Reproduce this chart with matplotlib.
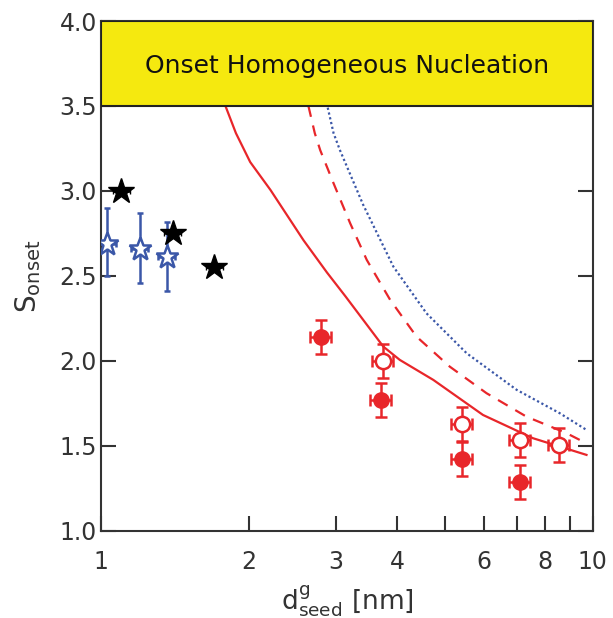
import numpy as np
import matplotlib.pyplot as plt
from matplotlib.patches import Rectangle

# Experimental points
black_d = [1.10, 1.40, 1.70]
black_s = [3.00, 2.75, 2.55]

blue_d = [1.03, 1.20, 1.36]
blue_s = [2.69, 2.66, 2.61]
blue_lo = [0.19, 0.20, 0.20]
blue_hi = [0.21, 0.21, 0.21]

filled_d = [2.80, 3.71, 5.42, 7.11]
filled_s = [2.14, 1.77, 1.42, 1.29]
filled_err = [0.10, 0.10, 0.10, 0.10]

open_d = [3.74, 5.42, 7.11, 8.53]
open_s = [2.00, 1.63, 1.535, 1.506]
open_err = [0.10, 0.10, 0.10, 0.10]

# Model curves
solid_d = [1.79, 1.88, 2.01, 2.21, 2.58, 2.88, 3.14, 3.75, 4.05, 4.74, 5.98, 7.56, 9.71]
solid_s = [3.50, 3.34, 3.17, 3.006, 2.71, 2.52, 2.38, 2.084, 2.006, 1.888, 1.682, 1.545, 1.447]

dash_d = [2.64, 2.72, 2.79, 2.97, 3.21, 3.47, 3.87, 4.38, 5.12, 6.08, 7.33, 8.84, 9.41]
dash_s = [3.50, 3.34, 3.24, 3.045, 2.81, 2.594, 2.36, 2.143, 1.966, 1.81, 1.672, 1.575, 1.535]

dot_d = [2.89, 2.97, 3.06, 3.41, 3.93, 4.59, 5.54, 7.00, 8.57, 9.71]
dot_s = [3.49, 3.34, 3.24, 2.92, 2.555, 2.28, 2.045, 1.83, 1.692, 1.594]

red = '#e8262a'
blue = '#3b57a8'
dark = '#333333'

plt.rcParams['font.family'] = 'DejaVu Sans'
fig = plt.figure(figsize=(6.13, 6.18), dpi=100)
ax = fig.add_axes([0.165, 0.141, 0.802, 0.825])

ax.set_xscale('log')
ax.set_xlim(1, 10)
ax.set_ylim(1.0, 4.0)

# yellow band
ax.add_patch(Rectangle((1, 3.5), 9, 0.5, facecolor='#f5e90f', edgecolor='#222222',
                       linewidth=1.5, zorder=5))
ax.text(np.sqrt(10), 3.735, 'Onset Homogeneous Nucleation', ha='center', va='center',
        fontsize=18, color='#111111', zorder=6)

ax.plot(solid_d, solid_s, color=red, linewidth=1.6, zorder=2)
ax.plot(dash_d, dash_s, color=red, linewidth=1.6, linestyle=(0, (5, 4)), zorder=2)
ax.plot(dot_d, dot_s, color=blue, linewidth=1.6, linestyle=(0, (1, 1.2)), zorder=2)

ax.errorbar(blue_d, blue_s, yerr=[blue_lo, blue_hi],
            xerr=[[d * 0.04 for d in blue_d], [d * 0.04 for d in blue_d]],
            fmt='*', ms=17, mfc='white', mec=blue, mew=1.8, ecolor=blue,
            elinewidth=1.8, capsize=2, zorder=3)
ax.errorbar(black_d, black_s, xerr=[[d * 0.04 for d in black_d], [d * 0.04 for d in black_d]],
            fmt='*', ms=19, color='black', ecolor='black', elinewidth=1.8, capsize=2, zorder=3)

ax.errorbar(filled_d, filled_s, yerr=filled_err,
            xerr=[[d * 0.05 for d in filled_d], [d * 0.05 for d in filled_d]],
            fmt='o', ms=11, color=red, ecolor=red, elinewidth=1.8, capsize=4,
            capthick=1.8, zorder=3)
ax.errorbar(open_d, open_s, yerr=open_err,
            xerr=[[d * 0.05 for d in open_d], [d * 0.05 for d in open_d]],
            fmt='o', ms=11, mfc='white', mec=red, mew=1.8, ecolor=red, elinewidth=1.8,
            capsize=4, capthick=1.8, zorder=3)

ax.set_xticks([1, 2, 3, 4, 6, 8, 10])
ax.set_xticklabels(['1', '2', '3', '4', '6', '8', '10'])
ax.set_xticks([5, 7, 9], minor=True)
ax.xaxis.set_minor_formatter(plt.NullFormatter())
ax.set_yticks([1.0, 1.5, 2.0, 2.5, 3.0, 3.5, 4.0])
ax.set_yticklabels(['1.0', '1.5', '2.0', '2.5', '3.0', '3.5', '4.0'])

ax.tick_params(axis='both', which='both', direction='in', length=11, width=1.5,
               colors=dark, labelsize=17, top=False, right=True)
ax.tick_params(axis='x', which='both', pad=14)
ax.tick_params(axis='y', pad=3)
for s in ax.spines.values():
    s.set_color(dark)
    s.set_linewidth(1.5)

ax.set_xlabel(r'$\mathregular{d^{g}_{seed}}$ [nm]', fontsize=19, color=dark, labelpad=6)
ax.set_ylabel(r'$\mathregular{S_{onset}}$', fontsize=20, color=dark, labelpad=12)

fig.savefig('out.png', dpi=100)
